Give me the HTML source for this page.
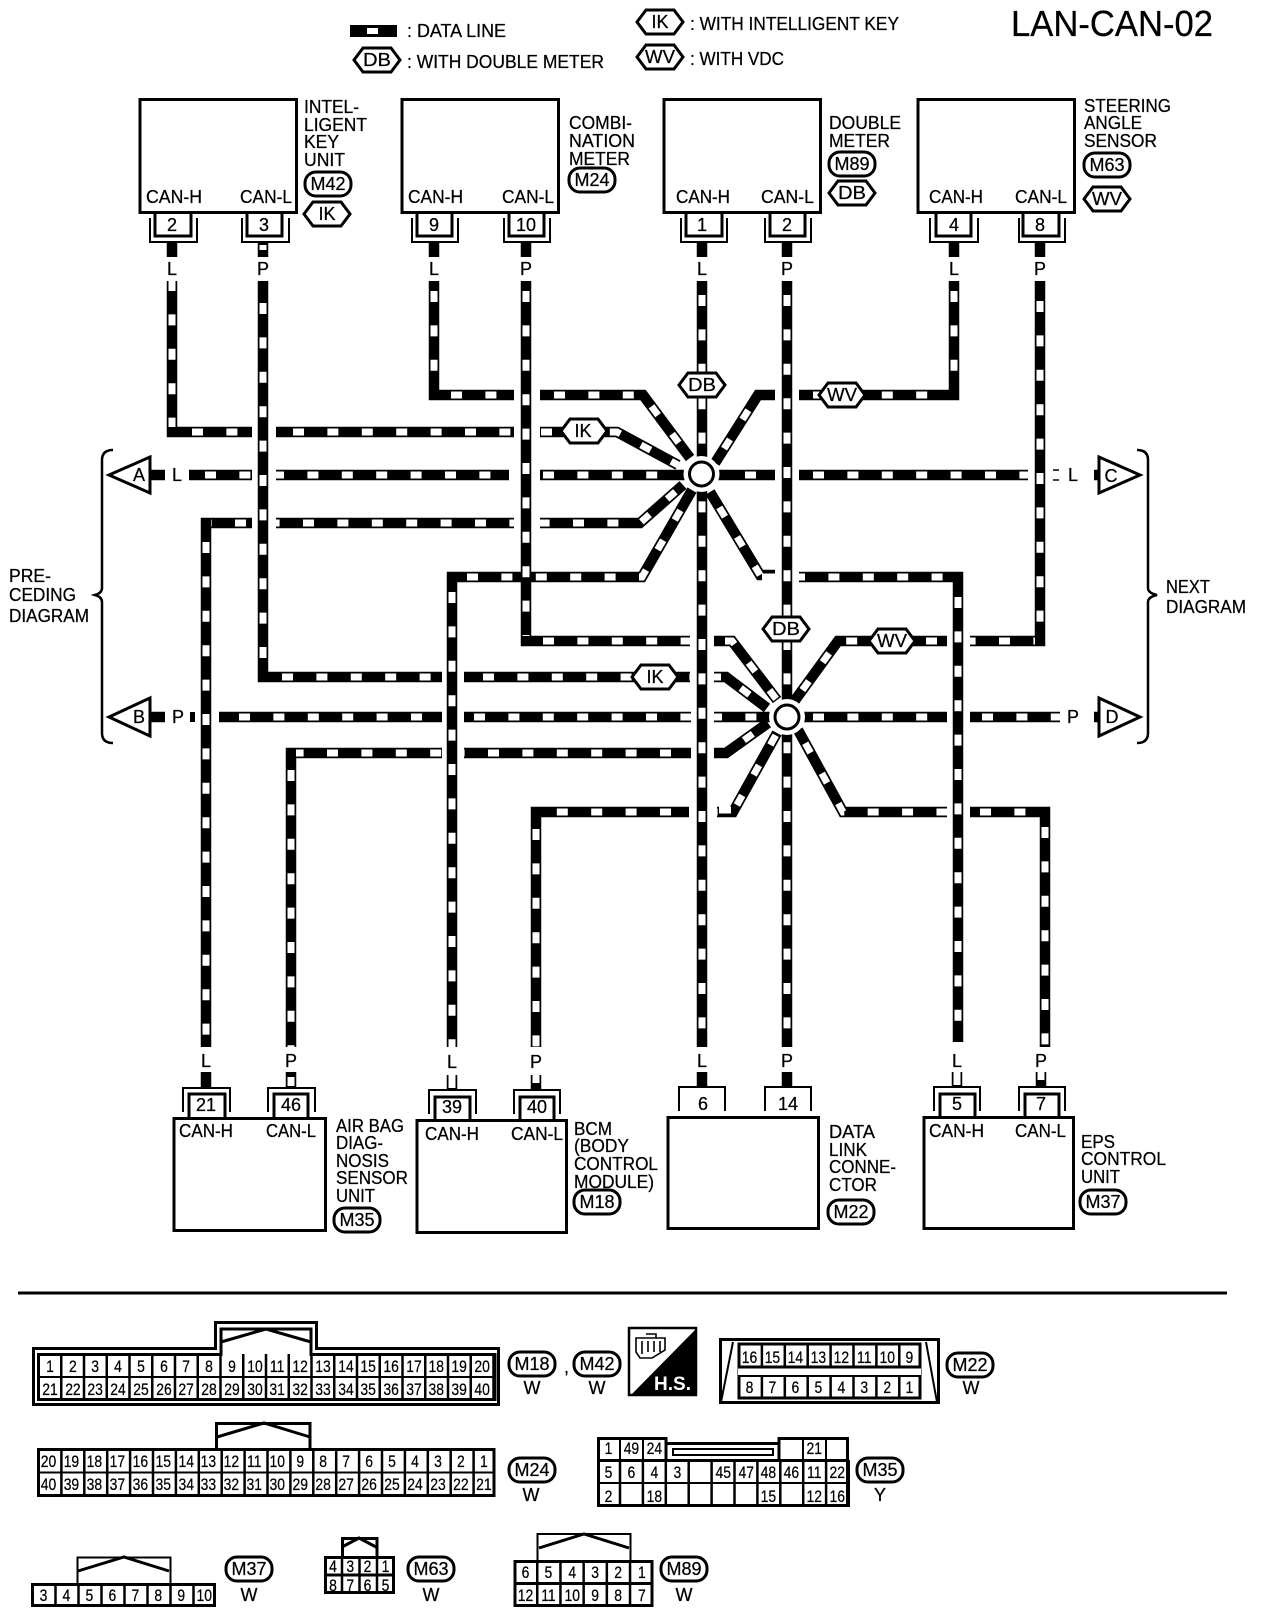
<!DOCTYPE html>
<html><head><meta charset="utf-8"><title>LAN-CAN-02</title>
<style>
html,body{margin:0;padding:0;background:#fff}
svg{display:block}
text{font-family:"Liberation Sans",Arial,sans-serif;fill:#000;font-size:18px;stroke:#000;stroke-width:.25}
.k{fill:none;stroke:#000;stroke-width:10.5;stroke-linejoin:miter}
.w{fill:none;stroke:#fff;stroke-width:7;stroke-dasharray:11 23.4}
.s2{fill:none;stroke:#000;stroke-width:2}
.s3{fill:none;stroke:#000;stroke-width:3}
.tag{fill:#fff;stroke:#000;stroke-width:3}
.m text,text.m{text-anchor:middle}
.n text{text-anchor:middle;font-size:17px}
.sep{fill:none;stroke:#000}
</style></head><body>
<svg xmlns="http://www.w3.org/2000/svg" width="1264" height="1614" viewBox="0 0 1264 1614">
<defs>
<polygon id="hx" class="tag" points="-23,0 -14,-12 14,-12 23,0 14,12 -14,12"/>
<rect id="ov" class="tag" x="-23" y="-12" width="46" height="24" rx="11"/>
</defs>
<rect width="1264" height="1614" fill="#fff"/>

<!-- legend -->
<rect x="350" y="25" width="47" height="12"/><rect x="367" y="28" width="11" height="6" fill="#fff"/>
<text x="407" y="37" textLength="99" lengthAdjust="spacingAndGlyphs">: DATA LINE</text>
<use href="#hx" x="377" y="60"/><text class="m" x="377" y="66" textLength="28" lengthAdjust="spacingAndGlyphs">DB</text>
<text x="407" y="68" textLength="197" lengthAdjust="spacingAndGlyphs">: WITH DOUBLE METER</text>
<use href="#hx" x="660" y="22"/><text class="m" x="660" y="28" textLength="17" lengthAdjust="spacingAndGlyphs">IK</text>
<text x="690" y="30" textLength="209" lengthAdjust="spacingAndGlyphs">: WITH INTELLIGENT KEY</text>
<use href="#hx" x="660" y="57"/><text class="m" x="660" y="63" textLength="30" lengthAdjust="spacingAndGlyphs">WV</text>
<text x="690" y="65" textLength="94" lengthAdjust="spacingAndGlyphs">: WITH VDC</text>
<text x="1011" y="36" style="font-size:36px" textLength="202" lengthAdjust="spacingAndGlyphs">LAN-CAN-02</text>

<!-- wires black -->
<g class="k">
<path d="M172 243V257M263 243V257M434 243V257M526 243V257M702 243V257M787 243V257M954 243V257M1040 243V257"/>
<path d="M172 281V432H252M276 432H514M540 432H617L678 465"/>
<path d="M434 281V395H514M540 395H643L690 458"/>
<path d="M263 281V677H442M464 677H690M714 677H726L767 708"/>
<path d="M526 281V641H690M714 641H732L777 700"/>
<path d="M702 281V1047M787 281V1047"/>
<path d="M954 281V395H799M775 395H758L715 463"/>
<path d="M1040 281V641H970M947 641H838L793 703"/>
<path d="M150 475H165M189 475H252M276 475H509M540 475H690M712 475H775M799 475H1028"/>
<path d="M252 523H206V1047M276 523H514M540 523H640L683 485"/>
<path d="M452 1047V577H642L692 490"/>
<path d="M710 492L760 575H775M799 577H958V1042"/>
<path d="M150 717H165M219 717H442M464 717H691M714 717H775M803 717H947M970 717H1060"/>
<path d="M442 753H291V1047M464 753H691M714 753H726L768 723"/>
<path d="M689 812H536V1047M717 812H733L777 733"/>
<path d="M798 730L843 812H947M970 812H1045V1047"/>
<path d="M206 1072V1087M291 1072V1087M452 1075V1090M536 1075V1090M702 1072V1087M787 1072V1087M957 1072V1087M1041 1072V1087"/>
<path d="M1094 475H1099M1094 717H1099"/>
</g>
<rect x="190" y="712" width="5" height="10"/>

<!-- wire whites -->
<g class="w">
<path stroke-dashoffset="1" d="M172 281V427"/>
<path stroke-dashoffset="-15" d="M177 432H252"/>
<path stroke-dashoffset="-17" d="M276 432H514"/>
<path stroke-dashoffset="-1" d="M540 432H617L678 465"/>
<path stroke-dashoffset="-10" d="M434 281V390"/>
<path stroke-dashoffset="-12" d="M439 395H514"/>
<path stroke-dashoffset="-14" d="M540 395H643L690 458"/>
<path stroke-dashoffset="-22" d="M263 281V672"/>
<path stroke-dashoffset="-14" d="M268 677H442"/>
<path stroke-dashoffset="-19" d="M464 677H690"/>
<path stroke-dashoffset="4" d="M714 677H726L767 708"/>
<path stroke-dashoffset="-10" d="M526 281V636"/>
<path stroke-dashoffset="-12" d="M531 641H690"/>
<path stroke-dashoffset="-11" d="M714 641H732L777 700"/>
<path stroke-dashoffset="-14" d="M702 281V1047"/>
<path stroke-dashoffset="-14" d="M787 281V1047"/>
<path stroke-dashoffset="-10" d="M954 281V390"/>
<path stroke-dashoffset="-14" d="M799 395H949"/>
<path stroke-dashoffset="-17" d="M715 463L758 395"/>
<path stroke-dashoffset="-20" d="M1040 281V636"/>
<path stroke-dashoffset="-25" d="M1035 641H970"/>
<path stroke-dashoffset="-10" d="M947 641H916"/>
<path stroke-dashoffset="-16" d="M793 703L838 641H868"/>
<path stroke-dashoffset="-16" d="M189 475H252"/>
<path stroke-dashoffset="3" d="M276 475H509"/>
<path stroke-dashoffset="-3" d="M540 475H680"/>
<path stroke-dashoffset="-23" d="M722 475H775"/>
<path stroke-dashoffset="-14" d="M799 475H1028"/>
<path stroke-dashoffset="-6" d="M252 523H211"/>
<path stroke-dashoffset="-14" d="M206 528V1047"/>
<path stroke-dashoffset="-27" d="M276 523H514"/>
<path stroke-dashoffset="-33" d="M540 523H640L683 485"/>
<path stroke-dashoffset="-15" d="M452 577H642L692 490"/>
<path stroke-dashoffset="-10" d="M452 582V1047"/>
<path stroke-dashoffset="-18" d="M710 492L760 575"/>
<path stroke-dasharray="none" d="M762 577H775"/>
<path stroke-dashoffset="5" d="M799 577H953"/>
<path stroke-dashoffset="-15" d="M958 582V1042"/>
<path stroke-dashoffset="-20" d="M219 717H442"/>
<path stroke-dashoffset="-10" d="M464 717H691"/>
<path stroke-dashoffset="3" d="M714 717H771"/>
<path stroke-dashoffset="-10" d="M803 717H947"/>
<path stroke-dashoffset="-12" d="M970 717H1060"/>
<path stroke-dashoffset="-31" d="M296 753H442"/>
<path stroke-dashoffset="-12" d="M291 758V1047"/>
<path stroke-dashoffset="-24" d="M464 753H691"/>
<path stroke-dashoffset="-22" d="M726 753L768 723"/>
<path stroke-dashoffset="-18" d="M689 812H541"/>
<path stroke-dashoffset="-12" d="M536 817V1047"/>
<path stroke-dashoffset="-24" d="M717 812H733L777 733"/>
<path stroke-dasharray="none" d="M719 810H731"/>
<path stroke-dashoffset="-15" d="M798 730L843 812H947"/>
<path stroke-dashoffset="-10" d="M970 812H1040"/>
<path stroke-dashoffset="-10" d="M1045 817V1047"/>
<path stroke-dasharray="none" d="M263 245V250M291 1077V1086M452 1075V1088M536 1075V1083M957 1072V1085M1041 1072V1080M1084 475H1094M1084 717H1094"/>
</g>
<path class="w" stroke-dasharray="none" d="M1053 475H1059M1053 717H1059"/>
<path fill="none" stroke="#000" stroke-width="1.5" d="M1053 470H1059M1053 480H1059"/>

<!-- hubs -->
<circle cx="701.5" cy="474" r="18" fill="#fff"/><circle cx="701.5" cy="474" r="12" fill="#fff" stroke="#000" stroke-width="3"/>
<circle cx="787" cy="717" r="18" fill="#fff"/><circle cx="787" cy="717" r="12" fill="#fff" stroke="#000" stroke-width="3"/>

<!-- wire tags -->
<use href="#hx" x="702" y="385"/><text class="m" x="702" y="391" textLength="28" lengthAdjust="spacingAndGlyphs">DB</text>
<use href="#hx" x="842" y="395"/><text class="m" x="842" y="401" textLength="30" lengthAdjust="spacingAndGlyphs">WV</text>
<use href="#hx" x="584" y="431"/><text class="m" x="583" y="437" textLength="17" lengthAdjust="spacingAndGlyphs">IK</text>
<use href="#hx" x="786" y="629"/><text class="m" x="786" y="635" textLength="28" lengthAdjust="spacingAndGlyphs">DB</text>
<use href="#hx" x="892" y="641"/><text class="m" x="892" y="647" textLength="30" lengthAdjust="spacingAndGlyphs">WV</text>
<use href="#hx" x="655" y="677"/><text class="m" x="655" y="683" textLength="17" lengthAdjust="spacingAndGlyphs">IK</text>

<!-- wire letters -->
<g class="m">
<text x="172" y="275">L</text><text x="263" y="275">P</text><text x="434" y="275">L</text><text x="526" y="275">P</text>
<text x="702" y="275">L</text><text x="787" y="275">P</text><text x="954" y="275">L</text><text x="1040" y="275">P</text>
<text x="177" y="481">L</text><text x="178" y="723">P</text><text x="1073" y="481">L</text><text x="1073" y="723">P</text>
<text x="206" y="1067">L</text><text x="291" y="1067">P</text><text x="452" y="1068">L</text><text x="536" y="1068">P</text>
<text x="702" y="1067">L</text><text x="787" y="1067">P</text><text x="957" y="1067">L</text><text x="1041" y="1067">P</text>
</g>

<!-- triangles and braces -->
<g fill="#fff" stroke="#000" stroke-width="3">
<polygon points="150,457 109,475 150,493"/><polygon points="150,698 109,717 150,736"/>
<polygon points="1099,457 1140,475 1099,493"/><polygon points="1099,698 1140,717 1099,736"/>
</g>
<g class="m"><text x="139" y="481">A</text><text x="139" y="723">B</text><text x="1111" y="482">C</text><text x="1112" y="723">D</text></g>
<path fill="none" stroke="#000" stroke-width="2.5" d="M113 450Q102 450 102 460V588Q102 593 95 595Q102 597 102 602V733Q102 743 113 743"/>
<path fill="none" stroke="#000" stroke-width="2.5" d="M1137 450Q1148 450 1148 460V588Q1148 593 1157 595Q1148 597 1148 602V733Q1148 743 1137 743"/>
<text x="9" y="582" textLength="42" lengthAdjust="spacingAndGlyphs">PRE-</text>
<text x="9" y="601" textLength="67" lengthAdjust="spacingAndGlyphs">CEDING</text>
<text x="9" y="622" textLength="80" lengthAdjust="spacingAndGlyphs">DIAGRAM</text>
<text x="1166" y="593" textLength="44" lengthAdjust="spacingAndGlyphs">NEXT</text>
<text x="1166" y="613" textLength="80" lengthAdjust="spacingAndGlyphs">DIAGRAM</text>

<!-- top boxes -->
<g class="s3">
<rect x="140" y="99.5" width="156.5" height="113"/><rect x="402" y="99.5" width="156.5" height="113"/>
<rect x="664" y="99.5" width="156.5" height="113"/><rect x="918" y="99.5" width="156.5" height="113"/>
<path d="M155 214V236H191V214M247 214V236H282V214M417 214V236H452V214M509 214V236H544V214M686 214V236H722V214M770 214V236H805V214M936 214V236H971V214M1023 214V236H1059V214"/>
</g>
<path class="s2" d="M150 218V242H197V218M242 218V242H289V218M412 218V242H458V218M504 218V242H550V218M681 218V242H727V218M765 218V242H811V218M930 218V242H978V218M1019 218V242H1065V218"/>
<g class="m" style="font-size:17px">
<text x="172" y="231">2</text><text x="264" y="231">3</text><text x="434" y="231">9</text><text x="526" y="231">10</text>
<text x="702" y="231">1</text><text x="787" y="231">2</text><text x="954" y="231">4</text><text x="1040" y="231">8</text>
</g>
<text x="146" y="203" textLength="56" lengthAdjust="spacingAndGlyphs">CAN-H</text><text x="240" y="203" textLength="52" lengthAdjust="spacingAndGlyphs">CAN-L</text>
<text x="408" y="203" textLength="55" lengthAdjust="spacingAndGlyphs">CAN-H</text><text x="502" y="203" textLength="52" lengthAdjust="spacingAndGlyphs">CAN-L</text>
<text x="676" y="203" textLength="54" lengthAdjust="spacingAndGlyphs">CAN-H</text><text x="761" y="203" textLength="53" lengthAdjust="spacingAndGlyphs">CAN-L</text>
<text x="929" y="203" textLength="54" lengthAdjust="spacingAndGlyphs">CAN-H</text><text x="1015" y="203" textLength="52" lengthAdjust="spacingAndGlyphs">CAN-L</text>

<text x="304" y="113" textLength="55" lengthAdjust="spacingAndGlyphs">INTEL-</text>
<text x="304" y="131" textLength="63" lengthAdjust="spacingAndGlyphs">LIGENT</text>
<text x="304" y="148" textLength="35" lengthAdjust="spacingAndGlyphs">KEY</text>
<text x="304" y="166" textLength="41" lengthAdjust="spacingAndGlyphs">UNIT</text>
<use href="#ov" x="328" y="184"/><text class="m" x="328" y="190" textLength="35" lengthAdjust="spacingAndGlyphs">M42</text>
<use href="#hx" x="327" y="214"/><text class="m" x="327" y="220" textLength="17" lengthAdjust="spacingAndGlyphs">IK</text>

<text x="569" y="129" textLength="63" lengthAdjust="spacingAndGlyphs">COMBI-</text>
<text x="569" y="147" textLength="66" lengthAdjust="spacingAndGlyphs">NATION</text>
<text x="569" y="165" textLength="61" lengthAdjust="spacingAndGlyphs">METER</text>
<use href="#ov" x="592" y="180"/><text class="m" x="592" y="186" textLength="35" lengthAdjust="spacingAndGlyphs">M24</text>

<text x="829" y="129" textLength="72" lengthAdjust="spacingAndGlyphs">DOUBLE</text>
<text x="829" y="147" textLength="61" lengthAdjust="spacingAndGlyphs">METER</text>
<use href="#ov" x="852" y="164"/><text class="m" x="852" y="170" textLength="35" lengthAdjust="spacingAndGlyphs">M89</text>
<use href="#hx" x="852" y="193"/><text class="m" x="852" y="199" textLength="28" lengthAdjust="spacingAndGlyphs">DB</text>

<text x="1084" y="112" textLength="87" lengthAdjust="spacingAndGlyphs">STEERING</text>
<text x="1084" y="129" textLength="58" lengthAdjust="spacingAndGlyphs">ANGLE</text>
<text x="1084" y="147" textLength="73" lengthAdjust="spacingAndGlyphs">SENSOR</text>
<use href="#ov" x="1107" y="165"/><text class="m" x="1107" y="171" textLength="35" lengthAdjust="spacingAndGlyphs">M63</text>
<use href="#hx" x="1107" y="199"/><text class="m" x="1107" y="205" textLength="30" lengthAdjust="spacingAndGlyphs">WV</text>

<!-- bottom boxes -->
<g class="s3">
<rect x="174" y="1118.5" width="151.5" height="112"/><rect x="417" y="1120.5" width="149.5" height="112"/>
<rect x="668" y="1117.5" width="150.5" height="111"/><rect x="924" y="1117.5" width="149.5" height="111"/>
<path d="M189 1117V1094H225V1117M274 1117V1094H308V1117M435 1119V1097H470V1119M520 1119V1097H554V1119M940 1116V1094H975V1116M1025 1116V1094H1059V1116"/>
</g>
<path class="s2" d="M183 1112V1088H230V1112M268 1112V1088H315V1112M429 1114V1090H476V1114M514 1114V1090H560V1114M679 1111V1087H725V1111M765 1111V1087H811V1111M934 1111V1087H980V1111M1019 1111V1087H1065V1111"/>
<g class="m" style="font-size:17px">
<text x="206" y="1111">21</text><text x="291" y="1111">46</text><text x="452" y="1113">39</text><text x="537" y="1113">40</text>
<text x="703" y="1110">6</text><text x="788" y="1110">14</text><text x="957" y="1110">5</text><text x="1041" y="1110">7</text>
</g>
<text x="179" y="1137" textLength="54" lengthAdjust="spacingAndGlyphs">CAN-H</text><text x="266" y="1137" textLength="50" lengthAdjust="spacingAndGlyphs">CAN-L</text>
<text x="425" y="1140" textLength="54" lengthAdjust="spacingAndGlyphs">CAN-H</text><text x="511" y="1140" textLength="52" lengthAdjust="spacingAndGlyphs">CAN-L</text>
<text x="929" y="1137" textLength="55" lengthAdjust="spacingAndGlyphs">CAN-H</text><text x="1015" y="1137" textLength="51" lengthAdjust="spacingAndGlyphs">CAN-L</text>

<text x="336" y="1132" textLength="68" lengthAdjust="spacingAndGlyphs">AIR BAG</text>
<text x="336" y="1149" textLength="47" lengthAdjust="spacingAndGlyphs">DIAG-</text>
<text x="336" y="1167" textLength="53" lengthAdjust="spacingAndGlyphs">NOSIS</text>
<text x="336" y="1184" textLength="72" lengthAdjust="spacingAndGlyphs">SENSOR</text>
<text x="336" y="1202" textLength="39" lengthAdjust="spacingAndGlyphs">UNIT</text>
<use href="#ov" x="357" y="1220"/><text class="m" x="357" y="1226" textLength="35" lengthAdjust="spacingAndGlyphs">M35</text>

<text x="574" y="1135" textLength="38" lengthAdjust="spacingAndGlyphs">BCM</text>
<text x="574" y="1152" textLength="55" lengthAdjust="spacingAndGlyphs">(BODY</text>
<text x="574" y="1170" textLength="84" lengthAdjust="spacingAndGlyphs">CONTROL</text>
<text x="574" y="1188" textLength="80" lengthAdjust="spacingAndGlyphs">MODULE)</text>
<use href="#ov" x="597" y="1202"/><text class="m" x="597" y="1208" textLength="35" lengthAdjust="spacingAndGlyphs">M18</text>

<text x="829" y="1138" textLength="46" lengthAdjust="spacingAndGlyphs">DATA</text>
<text x="829" y="1156" textLength="38" lengthAdjust="spacingAndGlyphs">LINK</text>
<text x="829" y="1173" textLength="67" lengthAdjust="spacingAndGlyphs">CONNE-</text>
<text x="829" y="1191" textLength="48" lengthAdjust="spacingAndGlyphs">CTOR</text>
<use href="#ov" x="851" y="1212"/><text class="m" x="851" y="1218" textLength="35" lengthAdjust="spacingAndGlyphs">M22</text>

<text x="1081" y="1148" textLength="34" lengthAdjust="spacingAndGlyphs">EPS</text>
<text x="1081" y="1165" textLength="85" lengthAdjust="spacingAndGlyphs">CONTROL</text>
<text x="1081" y="1183" textLength="39" lengthAdjust="spacingAndGlyphs">UNIT</text>
<use href="#ov" x="1103" y="1202"/><text class="m" x="1103" y="1208" textLength="35" lengthAdjust="spacingAndGlyphs">M37</text>

<rect x="18" y="1291.5" width="1209" height="3"/>

<!-- M18 connector -->
<path class="s3" d="M33.5 1348.5H215.5V1322.5H316.5V1348.5H498.5V1404.5H33.5Z"/>
<path class="s3" d="M38.5 1354.5H221V1329H311V1354.5H495V1399.5H38.5Z"/>
<path class="s3" d="M221 1342L266 1329L311 1342"/>
<path class="sep" stroke-width="46" stroke-dasharray="2.5 20.25" d="M37.25 1377H497"/>
<path class="s2" d="M38 1377H495"/>
<g class="n" transform="translate(38.5,1372) scale(.82,1)"><text x="14">1</text><text x="42">2</text><text x="69">3</text><text x="97">4</text><text x="125">5</text><text x="153">6</text><text x="180">7</text><text x="208">8</text><text x="236">9</text><text x="264">10</text><text x="291">11</text><text x="319">12</text><text x="347">13</text><text x="375">14</text><text x="402">15</text><text x="430">16</text><text x="458">17</text><text x="485">18</text><text x="513">19</text><text x="541">20</text></g>
<g class="n" transform="translate(38.5,1395) scale(.82,1)"><text x="14">21</text><text x="42">22</text><text x="69">23</text><text x="97">24</text><text x="125">25</text><text x="153">26</text><text x="180">27</text><text x="208">28</text><text x="236">29</text><text x="264">30</text><text x="291">31</text><text x="319">32</text><text x="347">33</text><text x="375">34</text><text x="402">35</text><text x="430">36</text><text x="458">37</text><text x="485">38</text><text x="513">39</text><text x="541">40</text></g>
<use href="#ov" x="532" y="1364"/><text class="m" x="532" y="1370" textLength="35" lengthAdjust="spacingAndGlyphs">M18</text><text class="m" x="532" y="1394">W</text>
<text x="564" y="1373">,</text>
<use href="#ov" x="597" y="1364"/><text class="m" x="597" y="1370" textLength="35" lengthAdjust="spacingAndGlyphs">M42</text><text class="m" x="597" y="1394">W</text>

<!-- H.S. -->
<rect x="629" y="1328" width="67" height="67" fill="#fff" stroke="#000" stroke-width="2.5"/>
<polygon points="696,1329 696,1396 630,1396"/>
<text x="654" y="1390" style="font-size:19px;font-weight:bold;fill:#fff;stroke:none" textLength="37" lengthAdjust="spacingAndGlyphs">H.S.</text>
<path fill="none" stroke="#000" stroke-width="1.6" d="M636 1338H665V1350L652 1358H640L636 1352ZM646 1334H656V1338M642 1341V1354M648 1341V1352M654 1341V1352M660 1341V1352"/>

<!-- M22 -->
<rect x="720.5" y="1339.5" width="218" height="63" class="s3"/>
<path class="s2" d="M733 1342L721 1402M926 1342L937 1402"/>
<rect x="739" y="1344" width="181" height="54" class="s3"/>
<path class="sep" stroke-width="54" stroke-dasharray="2.5 20.4" d="M737.75 1371H921"/>
<rect x="738" y="1367" width="183" height="9" fill="#fff"/>
<path d="M738 1367H921" stroke="#000" stroke-width="3"/><path d="M738 1376H921" stroke="#000" stroke-width="2"/>
<g class="n" transform="translate(738,1363) scale(.82,1)"><text x="14">16</text><text x="42">15</text><text x="70">14</text><text x="98">13</text><text x="126">12</text><text x="154">11</text><text x="182">10</text><text x="209">9</text></g>
<g class="n" transform="translate(738,1393) scale(.82,1)"><text x="14">8</text><text x="42">7</text><text x="70">6</text><text x="98">5</text><text x="126">4</text><text x="154">3</text><text x="182">2</text><text x="209">1</text></g>
<use href="#ov" x="970" y="1365"/><text class="m" x="970" y="1371" textLength="35" lengthAdjust="spacingAndGlyphs">M22</text><text class="m" x="971" y="1394">W</text>

<!-- M24 -->
<path class="s3" d="M216.5 1449V1423.5H310V1449"/>
<path class="s3" d="M217 1437L264 1423L310 1437"/>
<rect x="38.5" y="1449.5" width="455.5" height="46" class="s3"/>
<path class="sep" stroke-width="46" stroke-dasharray="2.5 20.4" d="M37.25 1472.5H495"/>
<path class="s2" d="M38 1472.5H494"/>
<g class="n" transform="translate(37,1467) scale(.82,1)"><text x="14">20</text><text x="42">19</text><text x="70">18</text><text x="98">17</text><text x="126">16</text><text x="154">15</text><text x="182">14</text><text x="209">13</text><text x="237">12</text><text x="265">11</text><text x="293">10</text><text x="321">9</text><text x="349">8</text><text x="377">7</text><text x="405">6</text><text x="433">5</text><text x="461">4</text><text x="489">3</text><text x="517">2</text><text x="545">1</text></g>
<g class="n" transform="translate(37,1490) scale(.82,1)"><text x="14">40</text><text x="42">39</text><text x="70">38</text><text x="98">37</text><text x="126">36</text><text x="154">35</text><text x="182">34</text><text x="209">33</text><text x="237">32</text><text x="265">31</text><text x="293">30</text><text x="321">29</text><text x="349">28</text><text x="377">27</text><text x="405">26</text><text x="433">25</text><text x="461">24</text><text x="489">23</text><text x="517">22</text><text x="545">21</text></g>
<use href="#ov" x="532" y="1470"/><text class="m" x="532" y="1476" textLength="35" lengthAdjust="spacingAndGlyphs">M24</text><text class="m" x="531" y="1501">W</text>

<!-- M35 -->
<path class="s3" d="M598.5 1438.5H666V1443.5H779V1438.5H847.5V1505.5H598.5Z"/>
<path class="s2" d="M597 1483H849M620 1438V1460M643 1438V1460M803 1438V1460M826 1438V1460"/>
<path class="s3" d="M597 1460.5H849M666 1443V1460M779 1438V1460"/>
<path class="sep" stroke-width="47" stroke-dasharray="2.5 20.4" d="M618.75 1483.5H850"/>
<rect x="673" y="1449" width="100" height="6" fill="#fff" stroke="#000" stroke-width="2"/>
<g class="n" transform="translate(597,1454) scale(.82,1)"><text x="14">1</text><text x="42">49</text><text x="70">24</text><text x="265">21</text></g>
<g class="n" transform="translate(597,1478) scale(.82,1)"><text x="14">5</text><text x="42">6</text><text x="70">4</text><text x="98">3</text><text x="154">45</text><text x="182">47</text><text x="209">48</text><text x="237">46</text><text x="265">11</text><text x="293">22</text></g>
<g class="n" transform="translate(597,1502) scale(.82,1)"><text x="14">2</text><text x="70">18</text><text x="209">15</text><text x="265">12</text><text x="293">16</text></g>
<use href="#ov" x="880" y="1470"/><text class="m" x="880" y="1476" textLength="35" lengthAdjust="spacingAndGlyphs">M35</text><text class="m" x="880" y="1501">Y</text>

<!-- M37 -->
<path class="s2" d="M77.5 1583V1557.5H170.5V1583"/>
<path class="s3" d="M78 1571L124 1557L169 1571"/>
<rect x="32.5" y="1584.5" width="182" height="21" class="s3"/>
<path class="sep" stroke-width="22" stroke-dasharray="2.5 20.5" d="M31.25 1595H216"/>
<g class="n" transform="translate(32,1601) scale(.82,1)"><text x="14">3</text><text x="42">4</text><text x="70">5</text><text x="98">6</text><text x="126">7</text><text x="154">8</text><text x="182">9</text><text x="210">10</text></g>
<use href="#ov" x="249" y="1569"/><text class="m" x="249" y="1575" textLength="35" lengthAdjust="spacingAndGlyphs">M37</text><text class="m" x="249" y="1601">W</text>

<!-- M63 -->
<path class="s3" d="M342.5 1557V1538.5H377V1557"/>
<path class="s3" d="M342 1547L359 1538L376 1547"/>
<rect x="325.5" y="1557.5" width="68" height="35" class="s3"/>
<path class="sep" stroke-width="36" stroke-dasharray="2.5 15" d="M340.75 1575H393"/>
<path class="s3" d="M325 1575H394"/>
<g class="n" transform="translate(324,1572) scale(.82,1)"><text x="11">4</text><text x="32">3</text><text x="53">2</text><text x="75">1</text></g>
<g class="n" transform="translate(324,1591) scale(.82,1)"><text x="11">8</text><text x="32">7</text><text x="53">6</text><text x="75">5</text></g>
<use href="#ov" x="431" y="1569"/><text class="m" x="431" y="1575" textLength="35" lengthAdjust="spacingAndGlyphs">M63</text><text class="m" x="431" y="1601">W</text>

<!-- M89 -->
<path class="s2" d="M537.5 1561V1534H630.5V1561"/>
<path class="s3" d="M539 1548L584 1534L629 1548"/>
<rect x="515" y="1561.5" width="137" height="44" class="s3"/>
<path class="sep" stroke-width="45" stroke-dasharray="2.5 20.7" d="M536 1583.5H652"/>
<path class="s3" d="M515 1583.5H652"/>
<g class="n" transform="translate(514,1578) scale(.82,1)"><text x="14">6</text><text x="42">5</text><text x="71">4</text><text x="99">3</text><text x="127">2</text><text x="156">1</text></g>
<g class="n" transform="translate(514,1601) scale(.82,1)"><text x="14">12</text><text x="42">11</text><text x="71">10</text><text x="99">9</text><text x="127">8</text><text x="156">7</text></g>
<use href="#ov" x="684" y="1569"/><text class="m" x="684" y="1575" textLength="35" lengthAdjust="spacingAndGlyphs">M89</text><text class="m" x="684" y="1601">W</text>
</svg>
</body></html>
